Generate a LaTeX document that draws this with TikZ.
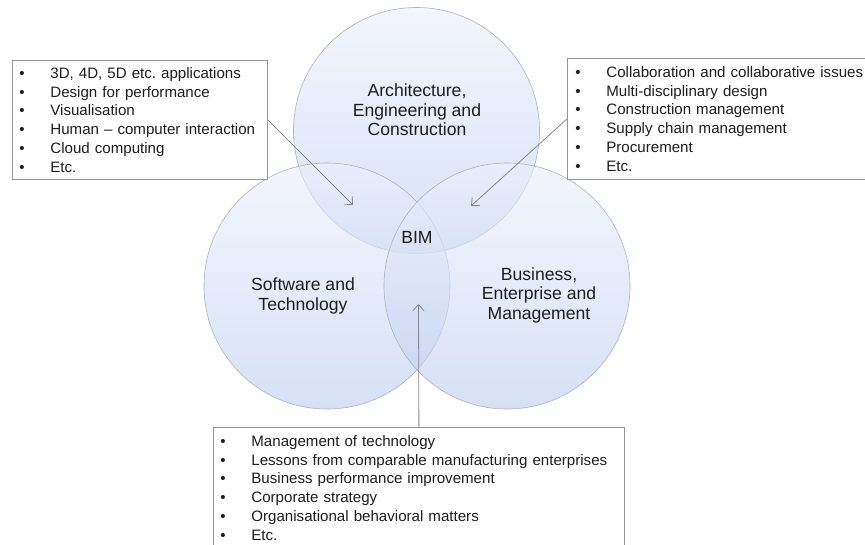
\documentclass[tikz,border=0pt]{standalone}
\usepackage{fontspec}
\setmainfont{Liberation Sans}
\usetikzlibrary{arrows.meta}
\frenchspacing
\definecolor{txt}{RGB}{30,30,30}
\definecolor{boxline}{RGB}{150,150,150}
\definecolor{arrline}{RGB}{135,135,140}
\definecolor{vennline}{RGB}{170,178,196}
\definecolor{venntop}{RGB}{236,240,251}
\definecolor{vennbot}{RGB}{188,205,240}
\newcommand\bl[1]{\hspace*{7pt}\makebox[31pt][l]{•}#1}
\tikzset{
  venn/.style={circle, minimum size=246pt, inner sep=0pt, draw=vennline, line width=0.6pt,
    top color=venntop, bottom color=vennbot, fill opacity=0.6, draw opacity=1},
  vlabel/.style={align=center, text=txt, font=\fontsize{17.6}{19.5}\selectfont, inner sep=0pt},
  listbox/.style={draw=boxline, fill=white, line width=0.8pt, anchor=north west, align=left,
    inner xsep=0pt, inner ysep=0pt, text=txt, font=\fontsize{15.1}{18.7}\selectfont},
  arr/.style={draw=arrline, line width=0.8pt, -{Straight Barb[length=6pt,width=11pt]}}
}
\begin{document}
\begin{tikzpicture}[x=1pt,y=-1pt]
\useasboundingbox (0,0) rectangle (865,544);
\clip (0,0) rectangle (865,544);
\fill[white] (0,0) rectangle (865,544);
% circles
\node[venn] (aec) at (416.5,130.5) {};
\node[venn] (swt) at (327,286) {};
\node[venn] (bem) at (507,286) {};
% labels
\node[vlabel] (laec) at (417,110) {Architecture,\\Engineering and\\Construction};
\node[vlabel] (lswt) at (303,296) {Software and\\Technology};
\node[vlabel] (lbem) at (539,295) {Business,\\Enterprise and\\Management};
\node[vlabel] (lbim) at (417,237) {BIM};
% boxes
\node[listbox, text width=255pt, minimum height=119pt] (lbox) at (12,60) {%
\bl{3D, 4D, 5D etc. applications}\\
\bl{Design for performance}\\
\bl{Visualisation}\\
\bl{Human – computer interaction}\\
\bl{Cloud computing}\\
\bl{Etc.}};
\node[listbox, text width=305pt, minimum height=121pt] (rbox) at (567,58) {%
\hspace*{1pt}\bl{Collaboration and collaborative issues}\\
\hspace*{1pt}\bl{Multi-disciplinary design}\\
\hspace*{1pt}\bl{Construction management}\\
\hspace*{1pt}\bl{Supply chain management}\\
\hspace*{1pt}\bl{Procurement}\\
\hspace*{1pt}\bl{Etc.}};
\node[listbox, text width=411pt, minimum height=121pt] (bbox) at (213,427) {%
\bl{Management of technology}\\
\bl{Lessons from comparable manufacturing enterprises}\\
\bl{Business performance improvement}\\
\bl{Corporate strategy}\\
\bl{Organisational behavioral matters}\\
\bl{Etc.}};
% arrows
\coordinate (t1) at (353,205);
\coordinate (t2) at (471,206);
\coordinate (t3) at (418.5,304);
\draw[arr] (lbox.east) -- (t1);
\draw[arr] (rbox.west) -- (t2);
\draw[arr] (bbox.north) -- (t3);
\end{tikzpicture}
\end{document}
